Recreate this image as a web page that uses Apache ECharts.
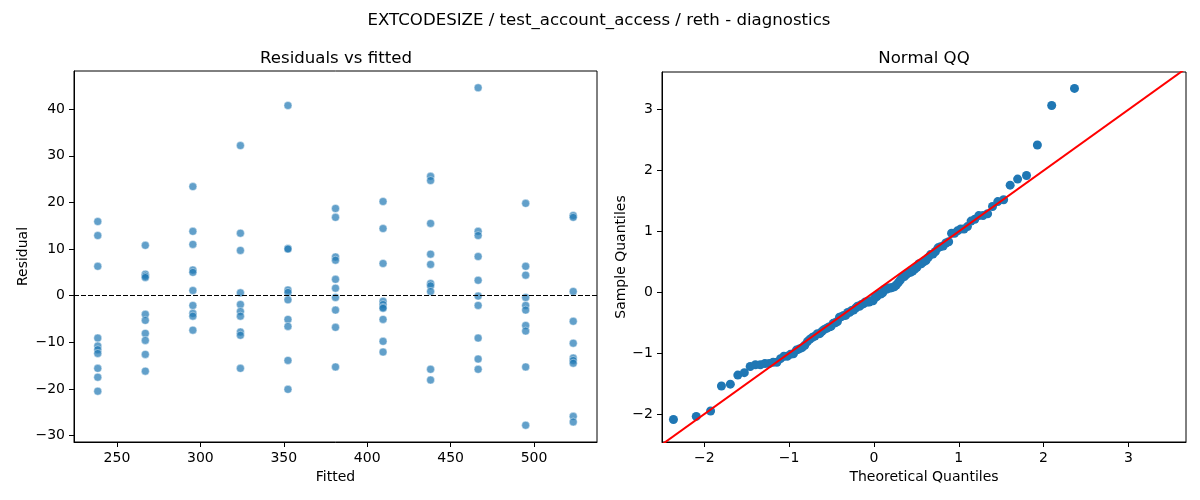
<!DOCTYPE html>
<html>
<head>
<meta charset="utf-8">
<script src="https://cdn.jsdelivr.net/npm/echarts@6/dist/echarts.min.js"></script>
<style>
  html, body { margin: 0; padding: 0; background: #fff; }
  #chart { width: 1200px; height: 500px; }
</style>
</head>
<body>
<div id="chart"></div>
<script>
// fitted levels (x of the residual plot)
var fittedLevels = [238.5, 267, 295.5, 324, 352.5, 381, 409.5, 438, 466.5, 495, 523.5];

// residuals read per fitted level
var residualsByLevel = [
  [15.9, 12.9, 6.3, -9.1, -10.8, -11.6, -12.4, -15.6, -17.5, -20.5],
  [10.8, 4.6, 4.2, 3.9, -4.0, -5.3, -8.1, -9.6, -12.6, -16.2],
  [23.4, 13.8, 11.0, 5.5, 5.0, 1.1, -2.1, -3.8, -4.4, -7.4],
  [32.2, 13.4, 9.7, 0.6, -1.9, -3.4, -4.4, -7.8, -8.5, -15.6],
  [40.8, 10.1, 10.0, 1.2, 0.7, -0.9, -5.1, -6.6, -13.9, -20.1],
  [18.7, 16.8, 8.3, 7.6, 3.5, 1.6, -0.4, -3.1, -6.8, -15.3],
  [20.2, 14.4, 6.9, -1.2, -1.9, -2.5, -2.7, -5.1, -9.8, -12.1],
  [25.6, 24.7, 15.5, 8.9, 6.7, 2.6, 2.1, 0.9, -15.8, -18.1],
  [44.6, 13.8, 12.9, 8.4, 3.3, -0.1, -2.1, -9.1, -13.6, -15.8],
  [19.8, 6.3, 4.4, -0.4, -2.1, -3.1, -6.4, -7.6, -15.3, -27.8],
  [17.2, 16.8, 0.9, -5.5, -10.2, -13.4, -13.9, -14.5, -25.9, -27.1]
];

// normal QQ points
var qqTheoretical = [
  -2.365, -2.096, -1.927, -1.799, -1.694, -1.606, -1.529, -1.460, -1.398, -1.340,
  -1.286, -1.236, -1.189, -1.145, -1.102, -1.062, -1.023, -0.985, -0.950, -0.915,
  -0.881, -0.848, -0.816, -0.785, -0.755, -0.725, -0.696, -0.667, -0.639, -0.612,
  -0.585, -0.558, -0.532, -0.507, -0.481, -0.456, -0.431, -0.407, -0.382, -0.358,
  -0.334, -0.310, -0.287, -0.263, -0.240, -0.217, -0.194, -0.171, -0.148, -0.125,
  -0.102, -0.079, -0.056, -0.034, -0.011, 0.011, 0.034, 0.056, 0.079, 0.102,
  0.125, 0.148, 0.171, 0.194, 0.217, 0.240, 0.263, 0.287, 0.310, 0.334,
  0.358, 0.382, 0.407, 0.431, 0.456, 0.481, 0.507, 0.532, 0.558, 0.585,
  0.612, 0.639, 0.667, 0.696, 0.725, 0.755, 0.785, 0.816, 0.848, 0.881,
  0.915, 0.950, 0.985, 1.023, 1.062, 1.102, 1.145, 1.189, 1.236, 1.286,
  1.340, 1.398, 1.460, 1.529, 1.606, 1.694, 1.799, 1.927, 2.096, 2.365
];
var qqSample = [
  -2.09, -2.04, -1.95, -1.54, -1.51, -1.36, -1.32, -1.22, -1.19, -1.19,
  -1.17, -1.17, -1.15, -1.15, -1.09, -1.05, -1.05, -1.02, -1.01, -0.95,
  -0.93, -0.91, -0.87, -0.81, -0.77, -0.74, -0.72, -0.68, -0.68, -0.64,
  -0.61, -0.59, -0.57, -0.56, -0.51, -0.50, -0.48, -0.41, -0.40, -0.38,
  -0.38, -0.33, -0.33, -0.30, -0.29, -0.26, -0.23, -0.23, -0.20, -0.19,
  -0.16, -0.16, -0.16, -0.14, -0.14, -0.09, -0.07, -0.03, -0.03, -0.01,
  0.05, 0.05, 0.07, 0.07, 0.08, 0.09, 0.12, 0.16, 0.20, 0.25,
  0.26, 0.29, 0.32, 0.33, 0.35, 0.38, 0.41, 0.47, 0.47, 0.50,
  0.52, 0.57, 0.62, 0.63, 0.67, 0.73, 0.75, 0.76, 0.81, 0.83,
  0.97, 0.97, 1.01, 1.04, 1.04, 1.08, 1.17, 1.20, 1.26, 1.26,
  1.29, 1.41, 1.49, 1.52, 1.76, 1.86, 1.92, 2.42, 3.07, 3.35
];

// 45 degree reference line ends
var qqLineEnds = [-3, 4];

// tick labels
var residXTicks = [250, 300, 350, 400, 450, 500];
var residYTicks = [-30, -20, -10, 0, 10, 20, 30, 40];
var qqXTicks = [-2, -1, 0, 1, 2, 3];
var qqYTicks = [-2, -1, 0, 1, 2, 3];

var FONT = 'DejaVu Sans';

var residPoints = [];
for (var i = 0; i < fittedLevels.length; i++) {
  for (var j = 0; j < residualsByLevel[i].length; j++) {
    residPoints.push([fittedLevels[i], residualsByLevel[i][j]]);
  }
}
var qqPoints = [];
for (var k = 0; k < qqTheoretical.length; k++) {
  qqPoints.push([qqTheoretical[k], qqSample[k]]);
}
var qqLine = [[qqLineEnds[0], qqLineEnds[0]], [qqLineEnds[1], qqLineEnds[1]]];

// matplotlib style minus sign
var tickFmt = function (v) {
  return String(v).replace('-', '\u2212');
};

var axisCommon = function (ticks, name, gap, extra) {
  var ax = {
    type: 'value',
    name: name,
    nameLocation: 'middle',
    nameGap: gap,
    nameTextStyle: { fontFamily: FONT, fontSize: 14, color: '#000' },
    splitLine: { show: false },
    axisLine: { show: true, onZero: false, lineStyle: { color: '#000', width: 1 } },
    axisTick: { show: true, length: 5, lineStyle: { color: '#000' }, customValues: ticks },
    axisLabel: { fontFamily: FONT, fontSize: 14, color: '#000', margin: 9, customValues: ticks, formatter: tickFmt }
  };
  for (var key in extra) ax[key] = extra[key];
  return ax;
};

var titleStyle = { fontFamily: FONT, fontSize: 16.6, fontWeight: 'normal', color: '#000' };

var chart = echarts.init(document.getElementById('chart'));
chart.setOption({
  animation: false,
  backgroundColor: '#fff',
  title: [
    { text: 'EXTCODESIZE / test_account_access / reth - diagnostics', left: 594, top: 7, textAlign: 'center', textStyle: titleStyle },
    { text: 'Residuals vs fitted', left: 331, top: 45, textAlign: 'center', textStyle: titleStyle },
    { text: 'Normal QQ', left: 919, top: 45, textAlign: 'center', textStyle: titleStyle }
  ],
  grid: [
    { left: 74, right: 603, top: 71, bottom: 58, show: true, borderColor: '#000', borderWidth: 1 },
    { left: 662, right: 14, top: 72, bottom: 58, show: true, borderColor: '#000', borderWidth: 1 }
  ],
  xAxis: [
    axisCommon(residXTicks, 'Fitted', 27, { gridIndex: 0, min: 224.25, max: 537.75 }),
    axisCommon(qqXTicks, 'Theoretical Quantiles', 27, { gridIndex: 1, min: -2.5, max: 3.68 })
  ],
  yAxis: [
    axisCommon(residYTicks, 'Residual', 44, { gridIndex: 0, min: -31.4, max: 48.2 }),
    axisCommon(qqYTicks, 'Sample Quantiles', 33, { gridIndex: 1, min: -2.46, max: 3.62 })
  ],
  series: [
    {
      type: 'scatter',
      xAxisIndex: 0,
      yAxisIndex: 0,
      data: residPoints,
      symbolSize: 8,
      itemStyle: { color: '#1f77b4', opacity: 0.7, borderColor: '#fff', borderWidth: 0.6 },
      markLine: {
        silent: true,
        symbol: 'none',
        label: { show: false },
        lineStyle: { color: '#000', type: [5, 2], width: 1.2 },
        data: [{ yAxis: 0 }]
      },
      z: 3
    },
    {
      type: 'scatter',
      xAxisIndex: 1,
      yAxisIndex: 1,
      data: qqPoints,
      symbolSize: 9,
      itemStyle: { color: '#1f77b4', opacity: 1 },
      z: 2
    },
    {
      type: 'line',
      xAxisIndex: 1,
      yAxisIndex: 1,
      data: qqLine,
      clip: true,
      symbol: 'none',
      lineStyle: { color: '#ff0000', width: 2 },
      z: 4
    }
  ]
});
</script>
</body>
</html>
